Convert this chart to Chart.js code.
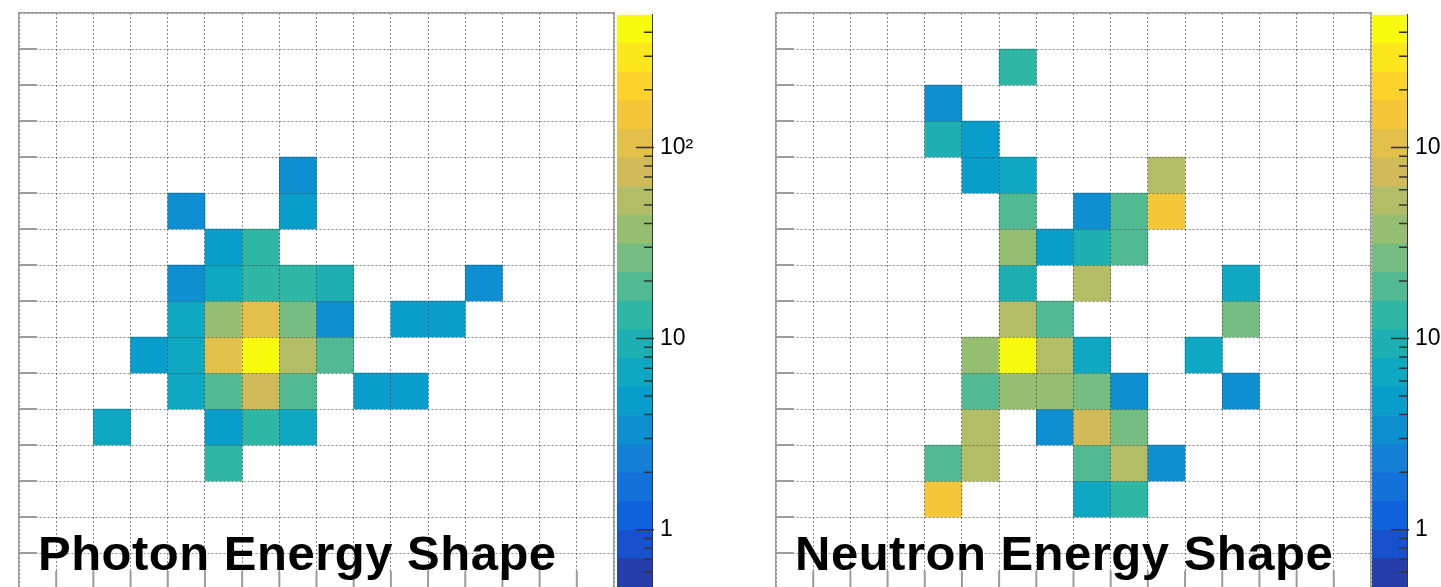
<!DOCTYPE html>
<html>
<head>
<meta charset="utf-8">
<title>Energy Shape</title>
<script src="https://cdn.jsdelivr.net/npm/chart.js@4.4.1/dist/chart.umd.min.js"></script>
<style>
    html, body { margin: 0; padding: 0; background: #fff; overflow: hidden; }
    body { width: 1441px; height: 587px; position: relative; }
    canvas { position: absolute; }
</style>
</head>
<body>
<canvas id="photonMap" width="615" height="596" style="left:9px; top:3px"></canvas>
<canvas id="photonBar" width="95" height="616" style="left:617px; top:-7px"></canvas>
<canvas id="neutronMap" width="615" height="596" style="left:766px; top:3px"></canvas>
<canvas id="neutronBar" width="95" height="616" style="left:1372px; top:-7px"></canvas>
<script>
// bins along x (16 cells)
const binLabels = ['0', '1', '2', '3', '4', '5', '6', '7', '8', '9', '10', '11', '12', '13', '14', '15'];

// cell contents, rows listed from the top of the frame down
const photonCounts = [
    [0, 0, 0, 0, 0, 0, 0, 0, 0, 0, 0, 0, 0, 0, 0, 0],
    [0, 0, 0, 0, 0, 0, 0, 0, 0, 0, 0, 0, 0, 0, 0, 0],
    [0, 0, 0, 0, 0, 0, 0, 0, 0, 0, 0, 0, 0, 0, 0, 0],
    [0, 0, 0, 0, 0, 0, 0, 0, 0, 0, 0, 0, 0, 0, 0, 0],
    [0, 0, 0, 0, 0, 0, 0, 3.2, 0, 0, 0, 0, 0, 0, 0, 0],
    [0, 0, 0, 0, 3.4, 0, 0, 4.5, 0, 0, 0, 0, 0, 0, 0, 0],
    [0, 0, 0, 0, 0, 4.8, 13, 0, 0, 0, 0, 0, 0, 0, 0, 0],
    [0, 0, 0, 0, 3.3, 6.5, 13.5, 12.5, 9.8, 0, 0, 0, 3.1, 0, 0, 0],
    [0, 0, 0, 0, 6.8, 38, 110, 27, 3.8, 0, 4.6, 4.4, 0, 0, 0, 0],
    [0, 0, 0, 4.2, 6.4, 100, 480, 55, 19, 0, 0, 0, 0, 0, 0, 0],
    [0, 0, 0, 0, 6.9, 18, 76, 20, 0, 4.3, 4.7, 0, 0, 0, 0, 0],
    [0, 0, 6.3, 0, 0, 4.1, 12, 7.0, 0, 0, 0, 0, 0, 0, 0, 0],
    [0, 0, 0, 0, 0, 12.8, 0, 0, 0, 0, 0, 0, 0, 0, 0, 0],
    [0, 0, 0, 0, 0, 0, 0, 0, 0, 0, 0, 0, 0, 0, 0, 0],
    [0, 0, 0, 0, 0, 0, 0, 0, 0, 0, 0, 0, 0, 0, 0, 0],
    [0, 0, 0, 0, 0, 0, 0, 0, 0, 0, 0, 0, 0, 0, 0, 0]
];

const neutronCounts = [
    [0, 0, 0, 0, 0, 0, 0, 0, 0, 0, 0, 0, 0, 0, 0, 0],
    [0, 0, 0, 0, 0, 0, 13, 0, 0, 0, 0, 0, 0, 0, 0, 0],
    [0, 0, 0, 0, 3.5, 0, 0, 0, 0, 0, 0, 0, 0, 0, 0, 0],
    [0, 0, 0, 0, 10, 4.8, 0, 0, 0, 0, 0, 0, 0, 0, 0, 0],
    [0, 0, 0, 0, 0, 4.4, 6.7, 0, 0, 0, 53, 0, 0, 0, 0, 0],
    [0, 0, 0, 0, 0, 0, 19, 0, 3.2, 18, 150, 0, 0, 0, 0, 0],
    [0, 0, 0, 0, 0, 0, 39, 4.6, 9.6, 20, 0, 0, 0, 0, 0, 0],
    [0, 0, 0, 0, 0, 0, 9.2, 0, 50, 0, 0, 0, 6.5, 0, 0, 0],
    [0, 0, 0, 0, 0, 0, 56, 18.5, 0, 0, 0, 0, 27, 0, 0, 0],
    [0, 0, 0, 0, 0, 36, 460, 54, 6.6, 0, 0, 6.8, 0, 0, 0, 0],
    [0, 0, 0, 0, 0, 19.5, 40, 38, 25, 3.3, 0, 0, 3.4, 0, 0, 0],
    [0, 0, 0, 0, 0, 51, 0, 3.3, 75, 26, 0, 0, 0, 0, 0, 0],
    [0, 0, 0, 0, 19, 53, 0, 0, 18, 52, 3.2, 0, 0, 0, 0, 0],
    [0, 0, 0, 0, 145, 0, 0, 0, 6.8, 12.5, 0, 0, 0, 0, 0, 0],
    [0, 0, 0, 0, 0, 0, 0, 0, 0, 0, 0, 0, 0, 0, 0, 0],
    [0, 0, 0, 0, 0, 0, 0, 0, 0, 0, 0, 0, 0, 0, 0, 0]
];

const panelTitles = ['Photon Energy Shape', 'Neutron Energy Shape'];

// z axis (log) and its labels
const zMin = 0.5;
const zMax = 494;
const zTickValues = [1, 10, 100];
const zTickText = ['1', '10', '10²'];
const nContours = 20;

// bird palette stops
const birdStops = [
    [53, 42, 135], [15, 92, 221], [20, 129, 214], [6, 164, 202], [46, 183, 164],
    [135, 191, 119], [209, 187, 89], [254, 200, 50], [249, 251, 14]
];

const FRAME_COLOR = '#9c9c9c';
const GRID_COLOR = 'rgba(60, 60, 60, 0.6)';

function birdColor(t) {
    const pos = Math.min(1, Math.max(0, t)) * (birdStops.length - 1);
    const i = Math.min(birdStops.length - 2, Math.floor(pos));
    const f = pos - i;
    const c = birdStops[i].map((v, j) => Math.round(v + (birdStops[i + 1][j] - v) * f));
    return `rgb(${c[0]}, ${c[1]}, ${c[2]})`;
}

function contourIndex(v) {
    const lo = Math.log10(zMin);
    const f = (Math.log10(v) - lo) / (Math.log10(zMax) - lo);
    return Math.min(nContours - 1, Math.max(0, Math.floor(f * nContours)));
}

function contourColor(k) {
    return birdColor((k + 1) / nContours);
}

/**
 * Ticks drawn inside the frame, on left and bottom sides
 */
const innerTicks = {
    id: 'innerTicks',
    afterDraw(chart) {
        const { ctx, chartArea: a, scales: { x, y } } = chart;
        ctx.save();
        ctx.strokeStyle = FRAME_COLOR;
        ctx.lineWidth = 2;
        ctx.beginPath();
        for (let i = 1; i < binLabels.length; i++) {
            const py = y.getPixelForValue(i);
            ctx.moveTo(a.left, py);
            ctx.lineTo(a.left + 18, py);
            const px = (x.getPixelForValue(i - 1) + x.getPixelForValue(i)) / 2;
            ctx.moveTo(px, a.bottom);
            ctx.lineTo(px, a.bottom - 18);
        }
        ctx.stroke();
        ctx.restore();
    }
};

const panelTitle = {
    id: 'panelTitle',
    afterDraw(chart, args, opts) {
        const { ctx, chartArea: a } = chart;
        ctx.save();
        ctx.font = 'bold 49px "Liberation Sans", Arial, sans-serif';
        ctx.letterSpacing = '0.5px';
        ctx.fillStyle = '#000';
        ctx.textBaseline = 'alphabetic';
        ctx.fillText(opts.text, a.left + 19, a.top + 557);
        ctx.restore();
    }
};

const zTicks = {
    id: 'zTicks',
    afterDraw(chart) {
        const { ctx, chartArea: a, scales: { y } } = chart;
        ctx.save();
        ctx.strokeStyle = '#333';
        ctx.lineWidth = 1.5;
        ctx.beginPath();
        y.ticks.forEach(t => {
            const v = t.value;
            if (v <= zMin * 1.001 || v >= zMax * 0.999) return;
            const lg = Math.floor(Math.log10(v) + 1e-9);
            const sig = v / Math.pow(10, lg);
            if (Math.abs(sig - Math.round(sig)) > 1e-6) return;
            const major = Math.abs(sig - 1) < 1e-6;
            const len = major ? 16 : 8;
            const py = y.getPixelForValue(v);
            ctx.moveTo(a.right - len, py);
            ctx.lineTo(a.right + (major ? 2 : 0), py);
        });
        ctx.stroke();
        ctx.restore();
    }
};

function rowDatasets(counts) {
    return counts.map((row, r) => {
        const yLow = counts.length - 1 - r;
        return {
            data: row.map(v => (v > 0 ? [yLow, yLow + 1] : null)),
            backgroundColor: row.map(v => (v > 0 ? contourColor(contourIndex(v)) : 'rgba(0,0,0,0)')),
            borderWidth: 0,
            grouped: false,
            barPercentage: 1,
            categoryPercentage: 1
        };
    });
}

function frameAxis(position) {
    return {
        type: 'linear',
        position,
        min: 0,
        max: 1,
        grid: { display: false, drawTicks: false },
        ticks: { display: false },
        border: { display: true, color: FRAME_COLOR, width: 1.5, z: 2 }
    };
}

function createHeatmap(canvasId, counts, title) {
    return new Chart(document.getElementById(canvasId), {
        type: 'bar',
        data: { labels: binLabels, datasets: rowDatasets(counts) },
        options: {
            responsive: false,
            animation: false,
            devicePixelRatio: 1,
            events: [],
            layout: { padding: 10 },
            plugins: {
                legend: { display: false },
                tooltip: { enabled: false },
                panelTitle: { text: title }
            },
            scales: {
                x: {
                    type: 'category',
                    offset: true,
                    grid: { offset: true, color: GRID_COLOR, lineWidth: 1, drawTicks: false, z: 1 },
                    ticks: { display: false },
                    border: { display: true, color: FRAME_COLOR, width: 1.5, dash: [2, 2], z: 2 }
                },
                y: {
                    type: 'linear',
                    min: 0,
                    max: binLabels.length,
                    ticks: { display: false, stepSize: 1 },
                    grid: { color: GRID_COLOR, lineWidth: 1, drawTicks: false, z: 1 },
                    border: { display: true, color: FRAME_COLOR, width: 1.5, dash: [2, 2], z: 2 }
                },
                xTop: frameAxis('top'),
                yRight: frameAxis('right')
            }
        },
        plugins: [innerTicks, panelTitle]
    });
}

function createColorbar(canvasId) {
    const lo = Math.log10(zMin);
    const step = (Math.log10(zMax) - lo) / nContours;
    const bands = [];
    for (let k = 0; k < nContours; k++) {
        bands.push({
            data: [[Math.pow(10, lo + k * step), Math.pow(10, lo + (k + 1) * step)]],
            backgroundColor: contourColor(k),
            borderWidth: 0,
            grouped: false,
            barPercentage: 1,
            categoryPercentage: 1
        });
    }
    return new Chart(document.getElementById(canvasId), {
        type: 'bar',
        data: { labels: ['z'], datasets: bands },
        options: {
            responsive: false,
            animation: false,
            devicePixelRatio: 1,
            events: [],
            layout: { padding: { top: 20, bottom: 20, left: 0, right: 0 } },
            plugins: { legend: { display: false }, tooltip: { enabled: false } },
            scales: {
                x: { display: false },
                y: {
                    type: 'logarithmic',
                    position: 'right',
                    min: zMin,
                    max: zMax,
                    grid: { display: false, drawTicks: false },
                    border: { display: true, color: '#333', width: 1, z: 2 },
                    ticks: {
                        autoSkip: false,
                        padding: 8,
                        color: '#000',
                        font: { family: '"Liberation Sans", Arial, sans-serif', size: 23 },
                        callback: value => {
                            const i = zTickValues.findIndex(t => Math.abs(t - value) < 1e-6);
                            return i >= 0 ? zTickText[i] : '';
                        }
                    },
                    afterFit: scale => {
                        scale.width = 60;
                    }
                }
            }
        },
        plugins: [zTicks]
    });
}

createHeatmap('photonMap', photonCounts, panelTitles[0]);
createColorbar('photonBar');
createHeatmap('neutronMap', neutronCounts, panelTitles[1]);
createColorbar('neutronBar');
</script>
</body>
</html>
